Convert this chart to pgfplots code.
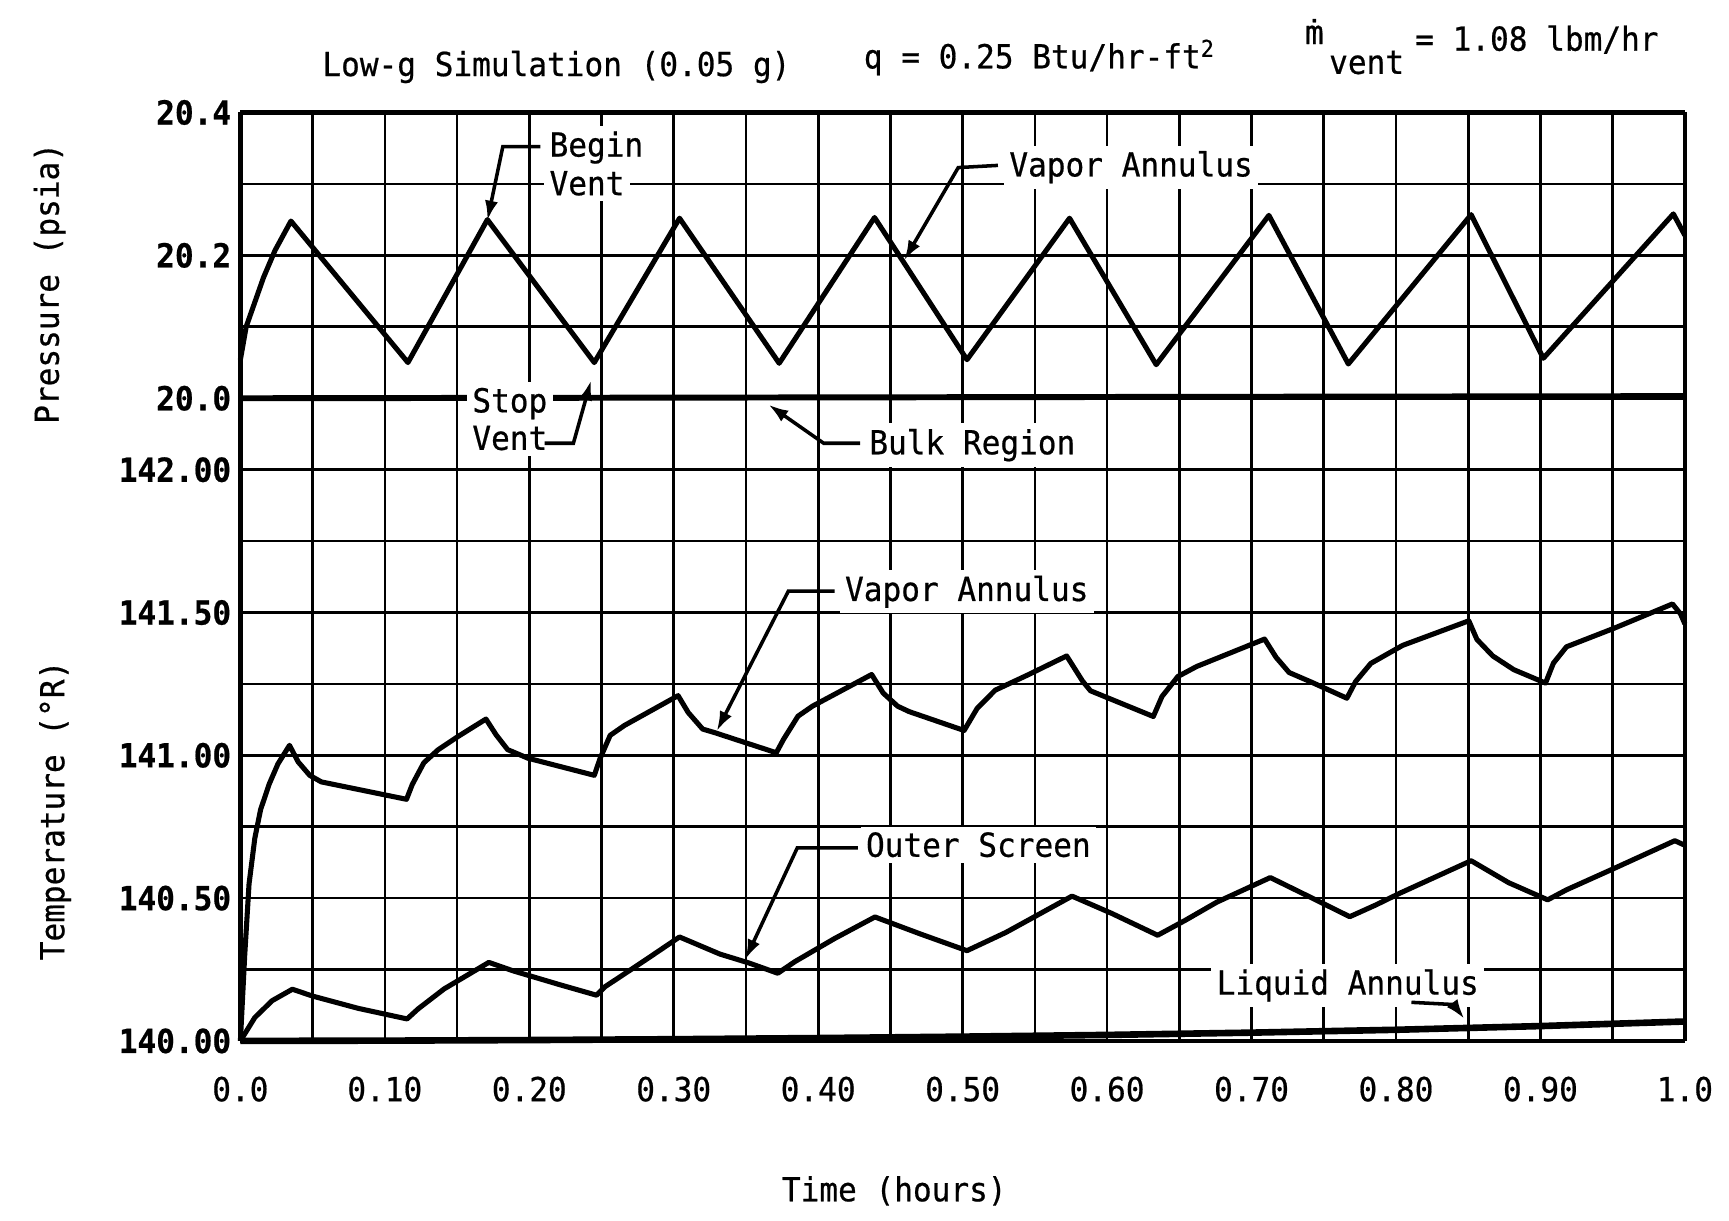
\documentclass[border=0pt]{standalone}
\usepackage{fontspec}
\setmainfont{DejaVu Sans Mono}[FakeStretch=0.94, FakeBold=0.6]
\usepackage{pgfplots}
\pgfplotsset{compat=1.18}
\usetikzlibrary{arrows.meta}
\newcommand\lab{\fontsize{15pt}{18pt}\selectfont}

\pgfplotsset{
  chart/.style={
    scale only axis, width=655pt, xmin=0, xmax=1,
    clip=false,
    xtick={0,0.1,0.2,0.3,0.4,0.5,0.6,0.7,0.8,0.9,1},
    minor xtick={0.05,0.15,0.25,0.35,0.45,0.55,0.65,0.75,0.85,0.95},
    grid=both,
    major grid style={black,line width=1.2pt},
    minor grid style={black,line width=1.2pt},
    axis line style={-,black,line width=2pt},
    every inner x axis line/.append style={-},
    every inner y axis line/.append style={-},
    major tick length=0pt, minor tick length=0pt,
    /pgf/number format/assume math mode=true,
    tick label style={font=\lab},
    yticklabel style={font=\lab\bfseries, anchor=east, inner sep=0pt, xshift=-4pt},
    xticklabel style={anchor=north, inner sep=0pt, yshift=-16pt},
  },
  curve/.style={black, line width=2.3pt, line join=round, mark=none},
}

\begin{document}
\begin{tikzpicture}
\path[use as bounding box] (0,0) rectangle (784pt,553.5pt);

% temperature panel
\begin{axis}[chart, at={(109pt,81.5pt)}, anchor=south west, height=259pt,
  axis x line*=bottom, axis y line*=box,
  ymin=140, ymax=142,
  ytick={140,140.5,141,141.5,142},
  yticklabels={140.00,140.50,141.00,141.50,142.00},
  minor ytick={140.25,140.75,141.25,141.75},
  xticklabels={0.0,0.10,0.20,0.30,0.40,0.50,0.60,0.70,0.80,0.90,1.0}]

% vapor annulus
\addplot[curve] coordinates {
(0.000,140.00) (0.003,140.30) (0.006,140.55) (0.010,140.71) (0.014,140.81)
(0.020,140.90) (0.026,140.97) (0.034,141.035) (0.040,140.977) (0.048,140.93)
(0.056,140.907) (0.115,140.846) (0.119,140.898) (0.127,140.974) (0.137,141.02)
(0.151,141.067) (0.170,141.127) (0.177,141.072) (0.185,141.02) (0.199,140.99)
(0.245,140.93) (0.249,140.989) (0.256,141.07) (0.266,141.105) (0.303,141.209)
(0.310,141.15) (0.320,141.092) (0.328,141.08) (0.371,141.009) (0.376,141.056)
(0.386,141.137) (0.396,141.172) (0.437,141.283) (0.445,141.218) (0.455,141.172)
(0.463,141.153) (0.501,141.087) (0.510,141.164) (0.5225,141.228) (0.5445,141.28)
(0.572,141.348) (0.583,141.26) (0.5885,141.226) (0.632,141.136) (0.638,141.206)
(0.649,141.276) (0.662,141.311) (0.709,141.407) (0.717,141.343) (0.726,141.29)
(0.742,141.255) (0.766,141.2) (0.772,141.258) (0.7826,141.322) (0.8046,141.385)
(0.8504,141.471) (0.856,141.406) (0.867,141.348) (0.8815,141.30) (0.9035,141.253)
(0.909,141.323) (0.918,141.38) (0.951,141.445) (0.9914,141.53) (0.997,141.495)
(1.000,141.46)
};

% outer screen
\addplot[curve] coordinates {
(0.000,140.00) (0.010,140.082) (0.022,140.141) (0.036,140.181) (0.050,140.157)
(0.0816,140.114) (0.1154,140.077) (0.123,140.112) (0.141,140.182) (0.172,140.275)
(0.189,140.245) (0.221,140.197) (0.2466,140.16) (0.2525,140.19) (0.280,140.282)
(0.304,140.364) (0.332,140.304) (0.352,140.273) (0.372,140.237) (0.384,140.278)
(0.4115,140.359) (0.4393,140.434) (0.471,140.374) (0.503,140.316) (0.530,140.38)
(0.5757,140.507) (0.603,140.447) (0.635,140.37) (0.654,140.422) (0.676,140.486)
(0.713,140.572) (0.742,140.50) (0.768,140.435) (0.786,140.476) (0.803,140.518)
(0.852,140.631) (0.878,140.554) (0.905,140.494) (0.918,140.529) (0.951,140.604)
(0.993,140.701) (1.000,140.685)
};

% liquid annulus
\addplot[curve, line width=3pt] coordinates {
(0,140.0) (0.1,140.001) (0.2,140.003) (0.3,140.006) (0.4,140.01) (0.5,140.015)
(0.6,140.021) (0.7,140.029) (0.8,140.039) (0.9,140.052) (1.0,140.068)
};
\end{axis}

% pressure panel
\begin{axis}[chart, at={(109pt,340.5pt)}, anchor=south west, height=162pt,
  axis x line*=top, axis y line*=box,
  ymin=19.9, ymax=20.4,
  ytick={20,20.2,20.4}, yticklabels={20.0,20.2,20.4},
  minor ytick={20.1,20.3},
  xticklabels={}]

% vapor annulus
\addplot[curve] coordinates {
(0.000,20.054) (0.004,20.10) (0.016,20.169) (0.024,20.207) (0.035,20.248)
(0.116,20.050) (0.171,20.250) (0.245,20.050) (0.304,20.252) (0.373,20.049)
(0.439,20.253) (0.503,20.054) (0.574,20.252) (0.634,20.047) (0.712,20.256)
(0.767,20.048) (0.852,20.257) (0.902,20.056) (0.992,20.258) (1.000,20.228)
};

% bulk region
\addplot[curve, line width=2.7pt] coordinates {(0,20.0) (1,20.003)};
\end{axis}

% texts and arrows, in pixel units of the reference
\begin{scope}[x=0.5pt, y=-0.5pt, shift={(0pt,553.5pt)},
  lbl/.style={font=\lab, fill=white, inner sep=2.5pt},
  txt/.style={font=\lab, inner sep=0pt},
  arr/.style={black, line width=1.6pt, -{Latex[length=9pt,width=6pt]}}]

\node[txt, anchor=base west] at (292,69) {Low-g Simulation (0.05 g)};
\node[txt, anchor=base west] at (783,62) {q = 0.25 Btu/hr-ft\textsuperscript{2}};
\node[txt, anchor=base] at (1192,40) {ṁ};
\node[txt, anchor=base west] at (1205,67) {vent};
\node[txt, anchor=base west] at (1283,46) {= 1.08 lbm/hr};

\node[txt, rotate=90] at (45,257) {Pressure (psia)};
\node[txt, rotate=90] at (50,735) {Temperature (°R)};
\node[txt] at (811,1080) {Time (hours)};

\node[lbl, anchor=base west] at (493,142) {Begin};
\node[lbl, anchor=base west] at (493,177) {Vent};
\draw[arr] (490,133) -- (456,133) -- (442,200);

\node[lbl, anchor=base west] at (423,374) {Stop};
\node[lbl, anchor=base west] at (423,408) {Vent};
\draw[arr] (494,402) -- (520,402) -- (536,345);

\node[lbl, anchor=base west] at (910,160) {Vapor Annulus};
\draw[arr] (905,150) -- (869,152) -- (820,236);

\node[lbl, anchor=base west] at (783,412) {Bulk Region};
\draw[arr] (780,402) -- (747,402) -- (697,367);

\node[lbl, anchor=base west] at (761,545) {Vapor Annulus};
\draw[arr] (757,536) -- (715,536) -- (650,663);

\node[lbl, anchor=base west] at (780,777) {Outer Screen};
\draw[arr] (778,769) -- (723,769) -- (676,870);

\node[lbl, anchor=base west] at (1098,902) {Liquid Annulus};
\draw[arr] (1280,909) -- (1318,911) -- (1328,924);
\end{scope}
\end{tikzpicture}
\end{document}
